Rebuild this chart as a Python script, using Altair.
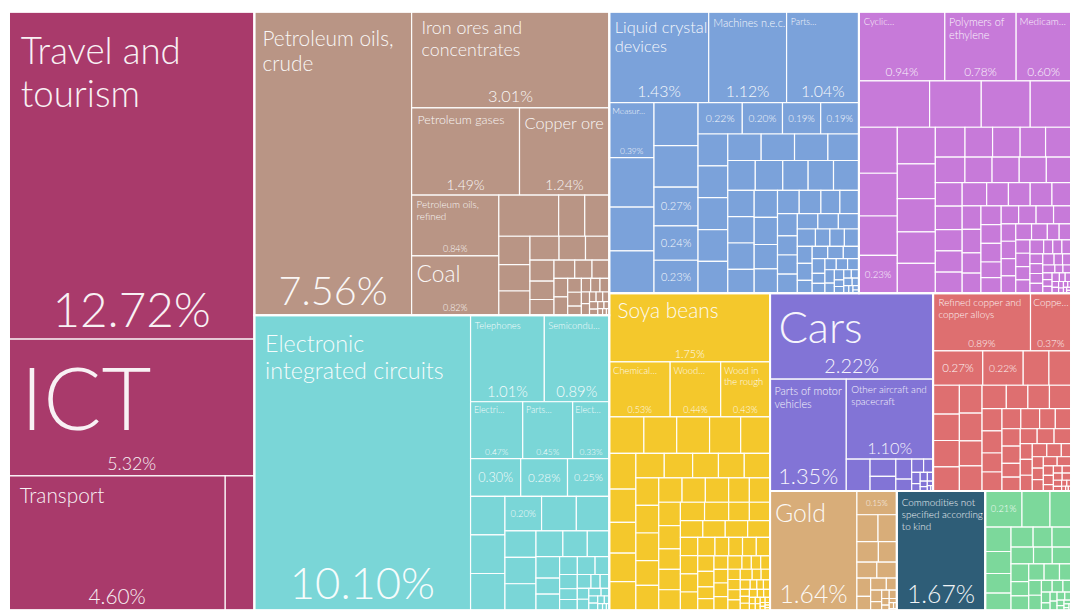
import altair as alt
import pandas as pd

# ---------------- layout space (reference pixels) and drawn size ----------------
W, H = 1080.0, 612.0
PW, PH = 1072, 604

# ---------------- data: share of total imports (%) ----------------
sector_names = ["Services", "Minerals", "Electronics", "Machinery", "Chemicals",
                "Vegetables", "Transportation", "Metals", "Precious metals", "Other", "Textiles"]
sector_colors = ["#a93a6b", "#b99585", "#7ad6d7", "#7ba2da", "#c77ad9",
                 "#f4c82c", "#8274d6", "#de6f70", "#d8ad79", "#2e5d77", "#7cd89b"]

services_values = [12.72, 5.32, 4.60, 0.62]
services_labels = ["Travel and\ntourism", "ICT", "Transport", None]

minerals_values = [7.56, 3.01, 1.49, 1.24, 0.84, 0.82, 0.39, 0.17, 0.16, 0.14, 0.13, 0.12,
                   0.11, 0.10, 0.09, 0.08, 0.07, 0.06, 0.06, 0.05, 0.05, 0.04, 0.04, 0.03,
                   0.03, 0.02, 0.02, 0.02, 0.02, 0.015, 0.015, 0.01, 0.01, 0.01, 0.01,
                   0.008, 0.007, 0.006, 0.005, 0.004, 0.003]
minerals_labels = ["Petroleum oils,\ncrude", "Iron ores and\nconcentrates", "Petroleum gases",
                   "Copper ore", "Petroleum oils,\nrefined", "Coal"]

electronics_values = [10.10, 1.01, 0.89, 0.47, 0.45, 0.33, 0.30, 0.28, 0.25, 0.21, 0.21, 0.20,
                      0.20, 0.19, 0.18, 0.13, 0.13, 0.13, 0.11, 0.10, 0.09, 0.08, 0.06, 0.06,
                      0.05, 0.05, 0.04, 0.04, 0.03, 0.03, 0.03, 0.02, 0.02, 0.02, 0.02, 0.015,
                      0.01, 0.01, 0.01, 0.008, 0.006, 0.005, 0.004, 0.003]
electronics_labels = ["Electronic\nintegrated circuits", "Telephones", "Semicondu…", "Electri…",
                      "Parts…", "Elect…", "", "", "", None, None, None, ""]

machinery_values = [1.43, 1.12, 1.04, 0.39, 0.35, 0.31, 0.30, 0.30, 0.29, 0.27, 0.24, 0.23,
                    0.22, 0.20, 0.19, 0.19, 0.15, 0.15, 0.15, 0.15, 0.15, 0.14, 0.14, 0.14,
                    0.13, 0.13, 0.13, 0.12, 0.12, 0.12, 0.11, 0.11, 0.11, 0.10, 0.10, 0.10,
                    0.09, 0.09, 0.08, 0.08, 0.07, 0.07, 0.07, 0.06, 0.06, 0.06, 0.05, 0.05,
                    0.05, 0.05, 0.04, 0.04, 0.04, 0.04, 0.04, 0.03, 0.03, 0.03, 0.03, 0.03,
                    0.02, 0.02, 0.02, 0.02, 0.02, 0.02, 0.015, 0.015, 0.01, 0.01, 0.01, 0.01,
                    0.01, 0.008, 0.006, 0.005, 0.004, 0.003]
machinery_labels = ["Liquid crystal\ndevices", "Machines n.e.c.", "Parts…", "Measur…",
                    None, None, None, None, None, "", "", "", "", "", "", ""]

chemicals_values = [0.94, 0.78, 0.60, 0.52, 0.38, 0.36, 0.30, 0.28, 0.26, 0.24, 0.23, 0.22,
                    0.21, 0.20, 0.19, 0.18, 0.14, 0.13, 0.13, 0.12, 0.12, 0.12, 0.11, 0.11,
                    0.11, 0.10, 0.10, 0.10, 0.09, 0.09, 0.09, 0.09, 0.08, 0.08, 0.08, 0.07,
                    0.07, 0.07, 0.06, 0.06, 0.06, 0.06, 0.06, 0.05, 0.05, 0.05, 0.05, 0.05,
                    0.05, 0.04, 0.04, 0.04, 0.04, 0.04, 0.04, 0.03, 0.03, 0.03, 0.03, 0.03,
                    0.03, 0.03, 0.02, 0.02, 0.02, 0.02, 0.02, 0.02, 0.02, 0.02, 0.015, 0.015,
                    0.015, 0.01, 0.01, 0.01, 0.01, 0.01, 0.01, 0.008, 0.008, 0.006, 0.006,
                    0.005, 0.004, 0.004, 0.003, 0.003, 0.002, 0.002]
chemicals_labels = ["Cyclic…", "Polymers of\nethylene", "Medicam…", None, None, None, None,
                    None, None, None, ""]

vegetables_values = [1.75, 0.53, 0.44, 0.43, 0.20, 0.19, 0.19, 0.18, 0.17, 0.15, 0.14, 0.13,
                     0.12, 0.12, 0.11, 0.11, 0.10, 0.10, 0.10, 0.10, 0.10, 0.10, 0.09, 0.09,
                     0.09, 0.09, 0.09, 0.08, 0.08, 0.08, 0.08, 0.07, 0.07, 0.07, 0.07, 0.07,
                     0.06, 0.06, 0.06, 0.06, 0.06, 0.06, 0.05, 0.05, 0.05, 0.05, 0.05, 0.04,
                     0.04, 0.04, 0.04, 0.04, 0.04, 0.03, 0.03, 0.03, 0.03, 0.03, 0.03, 0.03,
                     0.02, 0.02, 0.02, 0.02, 0.02, 0.02, 0.02, 0.02, 0.015, 0.015, 0.015,
                     0.01, 0.01, 0.01, 0.01, 0.01, 0.01, 0.01, 0.008, 0.008, 0.006, 0.006,
                     0.005, 0.005, 0.004, 0.004, 0.003, 0.003, 0.002, 0.002, 0.002]
vegetables_labels = ["Soya beans", "Chemical…", "Wood…", "Wood in\nthe rough"]

transport_values = [2.22, 1.35, 1.10, 0.12, 0.07, 0.06, 0.05, 0.03, 0.025, 0.02, 0.015,
                    0.01, 0.01, 0.008, 0.006, 0.005, 0.004, 0.003, 0.002]
transport_labels = ["Cars", "Parts of motor\nvehicles", "Other aircraft and\nspacecraft"]

metals_values = [0.89, 0.37, 0.27, 0.22, 0.14, 0.12, 0.12, 0.11, 0.11, 0.10, 0.10, 0.10,
                 0.09, 0.09, 0.09, 0.08, 0.08, 0.08, 0.07, 0.07, 0.06, 0.06, 0.06, 0.06,
                 0.05, 0.05, 0.05, 0.05, 0.04, 0.04, 0.04, 0.04, 0.04, 0.03, 0.03, 0.03,
                 0.03, 0.03, 0.02, 0.02, 0.02, 0.02, 0.02, 0.02, 0.015, 0.015, 0.01, 0.01,
                 0.01, 0.01, 0.01, 0.008, 0.006, 0.005, 0.004, 0.003, 0.002, 0.002]
metals_labels = ["Refined copper and\ncopper alloys", "Coppe…", "", ""]

precious_values = [1.64, 0.15, 0.09, 0.08, 0.07, 0.06, 0.05, 0.05, 0.04, 0.03, 0.03, 0.02,
                   0.02, 0.015, 0.01, 0.01, 0.008, 0.006, 0.005, 0.004, 0.003, 0.002]
precious_labels = ["Gold", ""]

other_values = [1.67]
other_labels = ["Commodities not\nspecified according\nto kind"]

textiles_values = [0.21, 0.16, 0.12, 0.10, 0.09, 0.08, 0.07, 0.07, 0.06, 0.06, 0.06, 0.05,
                   0.05, 0.05, 0.04, 0.04, 0.04, 0.04, 0.03, 0.03, 0.03, 0.02, 0.02,
                   0.015, 0.015, 0.01, 0.01, 0.01, 0.01, 0.008, 0.006, 0.005, 0.004,
                   0.003, 0.002, 0.002]
textiles_labels = [""]

sector_values = [services_values, minerals_values, electronics_values, machinery_values,
                 chemicals_values, vegetables_values, transport_values, metals_values,
                 precious_values, other_values, textiles_values]
sector_labels = [services_labels, minerals_labels, electronics_labels, machinery_labels,
                 chemicals_labels, vegetables_labels, transport_labels, metals_labels,
                 precious_labels, other_labels, textiles_labels]

# ---------------- text styling (font sizes for the larger labels) ----------------
NAME_SIZE = {
    "Travel and\ntourism": 37, "ICT": 87, "Transport": 21,
    "Petroleum oils,\ncrude": 21, "Iron ores and\nconcentrates": 18, "Petroleum gases": 12.5,
    "Copper ore": 16.5, "Petroleum oils,\nrefined": 10, "Coal": 23,
    "Electronic\nintegrated circuits": 23.5, "Telephones": 9.5, "Semicondu…": 9.5,
    "Electri…": 9, "Parts…": 9, "Elect…": 9,
    "Liquid crystal\ndevices": 16.5, "Machines n.e.c.": 11, "Measur…": 8.5,
    "Cyclic…": 9.5, "Polymers of\nethylene": 11, "Medicam…": 10,
    "Soya beans": 21, "Chemical…": 9.5, "Wood…": 9.5, "Wood in\nthe rough": 9.5,
    "Cars": 44, "Parts of motor\nvehicles": 11, "Other aircraft and\nspacecraft": 10,
    "Refined copper and\ncopper alloys": 10, "Coppe…": 10,
    "Gold": 25, "Commodities not\nspecified according\nto kind": 10,
}
PCT_SIZE = {
    "Travel and\ntourism": 48, "ICT": 18, "Transport": 21,
    "Petroleum oils,\ncrude": 40, "Iron ores and\nconcentrates": 16.5, "Petroleum gases": 14,
    "Copper ore": 14, "Petroleum oils,\nrefined": 9, "Coal": 9,
    "Electronic\nintegrated circuits": 44, "Telephones": 15, "Semicondu…": 15,
    "Electri…": 8.5, "Elect…": 8.5,
    "Liquid crystal\ndevices": 16, "Machines n.e.c.": 16, "Measur…": 8.5,
    "Cyclic…": 12, "Polymers of\nethylene": 12, "Medicam…": 12,
    "Soya beans": 11, "Chemical…": 9, "Wood…": 9, "Wood in\nthe rough": 9,
    "Cars": 20, "Parts of motor\nvehicles": 22, "Other aircraft and\nspacecraft": 16.5,
    "Refined copper and\ncopper alloys": 10, "Coppe…": 10,
    "Gold": 25, "Commodities not\nspecified according\nto kind": 25,
}
PCT_SIZE_BY_SECTOR = {("Machinery", "Parts…"): 16, ("Electronics", "Parts…"): 8.5}


# ---------------- squarified treemap (d3 squarify, ratio 1) ----------------
def squarify(values, x0, y0, x1, y1, sort=True):
    out = [None] * len(values)
    order = list(range(len(values)))
    if sort:
        order.sort(key=lambda i: -values[i])
    nodes = [values[i] for i in order]
    n = len(nodes)
    value = float(sum(nodes))
    i0 = i1 = 0
    while i0 < n:
        dx, dy = x1 - x0, y1 - y0
        sum_v = nodes[i1]
        i1 += 1
        min_v = max_v = sum_v
        alpha = max(dy / dx, dx / dy) / value
        beta = sum_v * sum_v * alpha
        min_ratio = max(max_v / beta, beta / min_v)
        while i1 < n:
            nv = nodes[i1]
            sum_v += nv
            min_v = min(min_v, nv)
            max_v = max(max_v, nv)
            beta = sum_v * sum_v * alpha
            new_ratio = max(max_v / beta, beta / min_v)
            if new_ratio > min_ratio:
                sum_v -= nv
                break
            min_ratio = new_ratio
            i1 += 1
        row = list(range(i0, i1))
        if dx < dy:
            yk = y0 + dy * sum_v / value if i1 < n else y1
            k = (x1 - x0) / sum_v
            xx = x0
            for j in row:
                out[order[j]] = (xx, y0, xx + nodes[j] * k, yk)
                xx += nodes[j] * k
            y0 = yk
        else:
            xk = x0 + dx * sum_v / value if i1 < n else x1
            k = (y1 - y0) / sum_v
            yy = y0
            for j in row:
                out[order[j]] = (x0, yy, xk, yy + nodes[j] * k)
                yy += nodes[j] * k
            x0 = xk
        value -= sum_v
        i0 = i1
    return out


totals = [sum(v) for v in sector_values]
# root: services first, then all goods
top = squarify([totals[0], sum(totals[1:])], 0, 0, W, H, sort=False)
sector_rects = [top[0]] + squarify(totals[1:], *top[1])

rect_rows, outline_rows, name_rows, pct_rows = [], [], [], []
for s, name in enumerate(sector_names):
    sx0, sy0, sx1, sy1 = sector_rects[s]
    outline_rows.append(dict(x0=sx0, x1=sx1, y0=sy0, y1=sy1))
    vals = sector_values[s]
    labs = sector_labels[s]
    cells = squarify(vals, sx0, sy0, sx1, sy1)
    for i, v in enumerate(vals):
        x0, y0, x1, y1 = cells[i]
        rect_rows.append(dict(sector=name, x0=x0, x1=x1, y0=y0, y1=y1, value=v))
        lab = labs[i] if i < len(labs) else None
        if lab is None:
            continue
        w, h = x1 - x0, y1 - y0
        pct = f"{v:.2f}%"
        if lab == "":
            fs = max(7.5, min(13.0, 0.25 * w, 0.33 * h))
            pct_rows.append(dict(x=(x0 + x1) / 2, y=(y0 + y1) / 2 + 0.36 * fs, text=pct, fs=fs))
            continue
        nf = NAME_SIZE[lab]
        pf = PCT_SIZE_BY_SECTOR.get((name, lab), PCT_SIZE.get(lab, 10))
        padx = min(12.0, 0.045 * w + 1)
        pady = min(0.35 * nf + 0.04 * h, 0.22 * h)
        for li, line in enumerate(lab.split("\n")):
            name_rows.append(dict(x=x0 + padx, y=y0 + pady + 0.72 * nf + li * 1.2 * nf,
                                  text=line, fs=nf))
        pct_rows.append(dict(x=(x0 + x1) / 2, y=y1 - 0.22 * pf - 2, text=pct, fs=pf))

rect_df = pd.DataFrame(rect_rows)
outline_df = pd.DataFrame(outline_rows)
name_df = pd.DataFrame(name_rows)
pct_df = pd.DataFrame(pct_rows)

xs = alt.Scale(domain=[0, W], nice=False, zero=False)
ys = alt.Scale(domain=[0, H], reverse=True, nice=False, zero=False)

cells = alt.Chart(rect_df).mark_rect(stroke="white", strokeWidth=1.2, strokeOpacity=0.95).encode(
    x=alt.X("x0:Q", scale=xs, axis=None),
    x2="x1:Q",
    y=alt.Y("y0:Q", scale=ys, axis=None),
    y2="y1:Q",
    color=alt.Color("sector:N", scale=alt.Scale(domain=sector_names, range=sector_colors), legend=None),
)

outlines = alt.Chart(outline_df).mark_rect(fillOpacity=0, stroke="white", strokeWidth=2).encode(
    x=alt.X("x0:Q", scale=xs, axis=None),
    x2="x1:Q",
    y=alt.Y("y0:Q", scale=ys, axis=None),
    y2="y1:Q",
)

names = alt.Chart(name_df).mark_text(align="left", baseline="alphabetic", font="Lato",
                                     fontWeight=300, color="white", opacity=0.93).encode(
    x=alt.X("x:Q", scale=xs, axis=None),
    y=alt.Y("y:Q", scale=ys, axis=None),
    text="text:N",
    size=alt.Size("fs:Q", scale=None, legend=None),
)

pcts = alt.Chart(pct_df).mark_text(align="center", baseline="alphabetic", font="Lato",
                                   fontWeight=300, color="white", opacity=0.93).encode(
    x=alt.X("x:Q", scale=xs, axis=None),
    y=alt.Y("y:Q", scale=ys, axis=None),
    text="text:N",
    size=alt.Size("fs:Q", scale=None, legend=None),
)

chart = alt.layer(cells, outlines, names, pcts).properties(
    width=PW, height=PH, padding=0
).configure_view(stroke=None)

chart.save("out.html", embed_options={"renderer": "svg", "actions": False})
